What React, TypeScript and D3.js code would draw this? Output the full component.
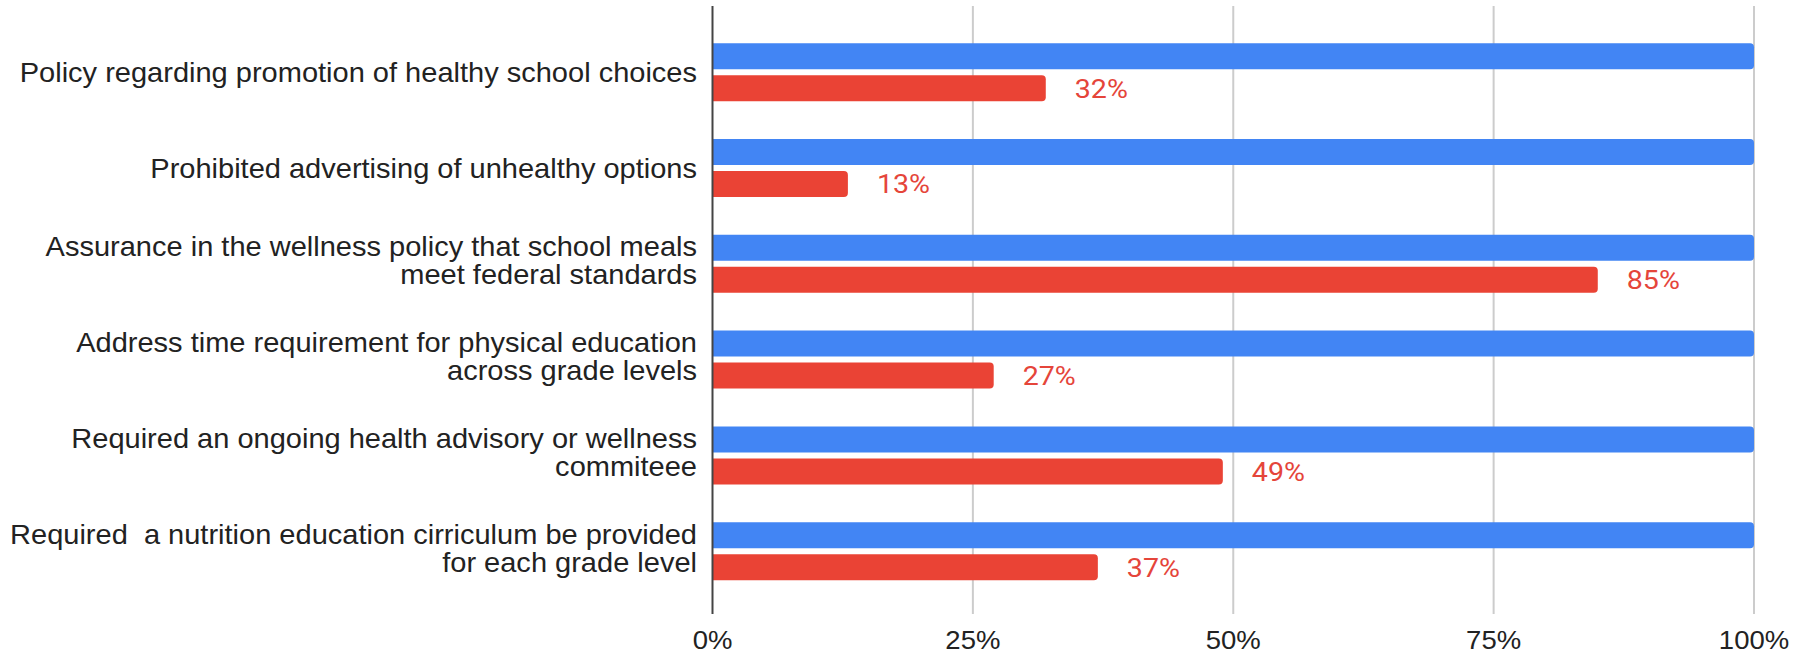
import React from "react";
import * as d3 from "d3";

const categories: string[][] = [
  ["Policy regarding promotion of healthy school choices"],
  ["Prohibited advertising of unhealthy options"],
  ["Assurance in the wellness policy that school meals", "meet federal standards"],
  ["Address time requirement for physical education", "across grade levels"],
  ["Required an ongoing health advisory or wellness", "commiteee"],
  ["Required  a nutrition education cirriculum be provided", "for each grade level"],
];
const totalValues = [100, 100, 100, 100, 100, 100];
const metValues = [32, 13, 85, 27, 49, 37];
const xTicks = [0, 25, 50, 75, 100];

const W = 1806;
const H = 655;
const BLUE = "#4285F4";
const RED = "#EA4335";

function barPath(x0: number, x1: number, y: number, h: number, r: number) {
  const rr = Math.min(r, (x1 - x0) / 2, h / 2);
  return `M${x0},${y}H${x1 - rr}Q${x1},${y} ${x1},${y + rr}V${y + h - rr}Q${x1},${y + h} ${x1 - rr},${y + h}H${x0}Z`;
}

export default function App() {
  const x = d3.scaleLinear().domain([0, 100]).range([712.5, 1754]);
  const y = d3
    .scaleBand<number>()
    .domain(categories.map((_, i) => i))
    .range([24.3, 24.3 + 95.8 * categories.length])
    .paddingInner(0)
    .paddingOuter(0);
  const bh = 26;
  const gap = 3;
  const axisTop = 6;
  const axisBottom = 614;

  return (
    <svg
      width={W}
      height={H}
      style={{ position: "fixed", left: 0, top: 0, background: "#fff" }}
      fontFamily="'Liberation Sans', Arial, sans-serif"
    >
      <rect x={0} y={0} width={W} height={H} fill="#fff" />
      {xTicks.slice(1).map((t) => (
        <line
          key={"g" + t}
          x1={x(t)}
          x2={x(t)}
          y1={axisTop}
          y2={axisBottom}
          stroke="#cccccc"
          strokeWidth={2}
        />
      ))}
      {categories.map((lines, i) => {
        const c = (y(i) as number) + y.bandwidth() / 2;
        return (
          <g key={"c" + i}>
            <path d={barPath(x(0), x(totalValues[i]), c - gap - bh, bh, 4)} fill={BLUE} />
            <path d={barPath(x(0), x(metValues[i]), c + gap, bh, 4)} fill={RED} />
            <text
              transform={`translate(${x(metValues[i]) + 29},${c + gap + bh / 2 + 9.3}) scale(1.1,1)`}
              fontFamily="Roboto, 'Noto Sans', sans-serif"
              fontSize={26}
              fill="#E5453A"
            >
              {metValues[i] + "%"}
            </text>
            {lines.map((ln, j) => {
              const base =
                lines.length === 1 ? c + 9.5 : c - 7.5 + j * 28;
              return (
                <text
                  key={j}
                  transform={`translate(697,${base}) scale(1.075,1)`}
                  textAnchor="end"
                  fontSize={27}
                  fill="#222"
                  style={{ whiteSpace: "pre" }}
                >
                  {ln}
                </text>
              );
            })}
          </g>
        );
      })}
      <line
        x1={x(0)}
        x2={x(0)}
        y1={axisTop}
        y2={axisBottom}
        stroke="#444"
        strokeWidth={2}
      />
      {xTicks.map((t) => (
        <text
          key={"t" + t}
          transform={`translate(${x(t)},649) scale(1.1,1)`}
          textAnchor="middle"
          fontSize={25}
          fill="#222"
        >
          {t + "%"}
        </text>
      ))}
    </svg>
  );
}
